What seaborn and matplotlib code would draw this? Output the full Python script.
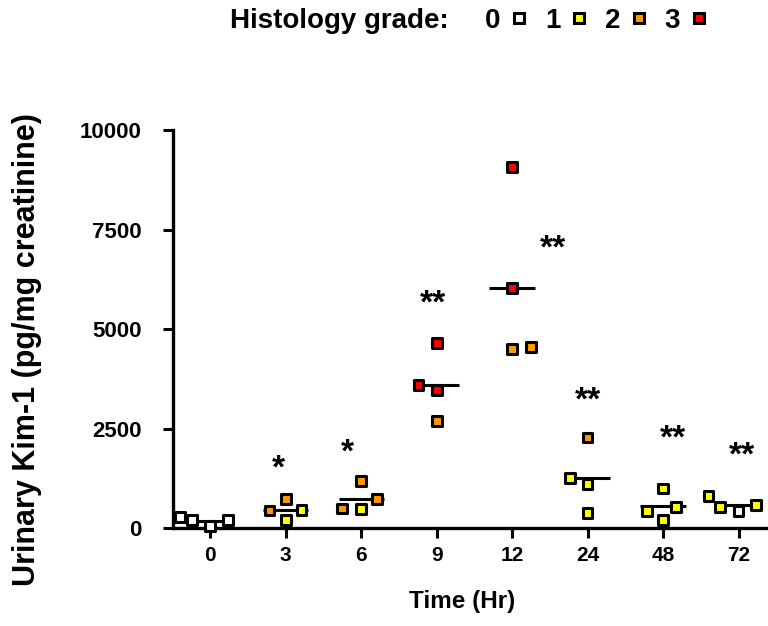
import numpy as np
import pandas as pd
import seaborn as sns
import matplotlib.pyplot as plt
from matplotlib.lines import Line2D

# time points (hours) and urinary Kim-1 values, 4 animals per time point
times = ['0', '3', '6', '9', '12', '24', '48', '72']
kim_0 = [200, 60, 290, 200]
kim_3 = [450, 730, 210, 460]
kim_6 = [730, 1190, 480, 500]
kim_9 = [4650, 3600, 3480, 2700]
kim_12 = [9080, 6040, 4500, 4560]
kim_24 = [2280, 1270, 1120, 390]
kim_48 = [1000, 540, 440, 210]
kim_72 = [590, 810, 430, 540]

# histology grade of each animal
grade_0 = ['0', '0', '0', '0']
grade_3 = ['2', '2', '1', '1']
grade_6 = ['2', '2', '1', '2']
grade_9 = ['3', '3', '3', '2']
grade_12 = ['3', '3', '2', '2']
grade_24 = ['2', '1', '1', '1']
grade_48 = ['1', '1', '1', '1']
grade_72 = ['1', '1', '0', '1']

signif = ['', '*', '*', '**', '**', '**', '**', '**']

grades = ['0', '1', '2', '3']
grade_colors = {'0': '#FFFFFF', '1': '#FFFF00', '2': '#FF9900', '3': '#FF0000'}

kims = [kim_0, kim_3, kim_6, kim_9, kim_12, kim_24, kim_48, kim_72]
grds = [grade_0, grade_3, grade_6, grade_9, grade_12, grade_24, grade_48, grade_72]
df = pd.DataFrame({
    'time': np.repeat(times, 4),
    'kim1': np.concatenate(kims),
    'grade': np.concatenate(grds),
})

sns.set_style('ticks')
plt.rcParams['font.family'] = ['Liberation Sans', 'DejaVu Sans']
plt.rcParams['font.weight'] = 'bold'
for k in ['text.color', 'axes.labelcolor', 'xtick.color', 'ytick.color', 'axes.edgecolor']:
    plt.rcParams[k] = 'black'

fig = plt.figure(figsize=(7.68, 6.26), dpi=100)
ax = fig.add_axes([172.5 / 768, (626 - 528.3) / 626, 595.5 / 768, 398.3 / 626])

# swarm laid out with a wide spacing (like Prism), then markers shrunk
sns.swarmplot(data=df, x='time', y='kim1', hue='grade', hue_order=grades,
              palette=grade_colors, order=times, marker='s', size=10.8,
              edgecolor='black', linewidth=2.2, legend=False, ax=ax, zorder=3)

# mean line
means = df.groupby('time')['kim1'].mean().reindex(times)
pos = np.arange(len(times))
ax.hlines(means.values, pos - 0.3, pos + 0.3, color='black', lw=2.2, zorder=2)

ax.set_xlim(-0.5, 7.39)
ax.set_ylim(0, 10000)
ax.set_yticks([0, 2500, 5000, 7500, 10000])
sns.despine(ax=ax)
for s in ['left', 'bottom']:
    ax.spines[s].set_linewidth(2.4)
ax.tick_params(axis='y', length=7, width=2.2, pad=15, labelsize=16)
ax.tick_params(axis='x', length=7, width=2.2, pad=6, labelsize=15)

ax.set_xlabel('Time (Hr)', fontsize=17.5, fontweight='bold')
ax.set_ylabel('Urinary Kim-1 (pg/mg creatinine)', fontsize=22, fontweight='bold')
ax.xaxis.set_label_coords(0.486, -0.155)
ax.yaxis.set_label_coords(-0.219, 0.448)

fig.canvas.draw()
for c in ax.collections:
    if 'draw' in c.__dict__:
        del c.draw
        c.set_sizes([7.0 ** 2])
    c.set_clip_on(False)

# significance stars
star_xy = [None, (0.91, 1630), (1.82, 2050), (2.95, 5780), (4.54, 7160),
           (5.0, 3350), (6.13, 2390), (7.04, 1965)]
for s, xy in zip(signif, star_xy):
    if s:
        ax.text(xy[0], xy[1] - 150, s, ha='center', va='center', fontsize=24,
                fontweight='bold')

# legend
handles = [Line2D([], [], marker='s', linestyle='none', markersize=6.8,
                  markerfacecolor=grade_colors[g], markeredgecolor='black',
                  markeredgewidth=2.2) for g in grades]
fig.legend(handles, grades, ncol=4, markerfirst=False, frameon=False,
           loc='center left', bbox_to_anchor=(485 / 768, 605 / 626),
           fontsize=20, handlelength=0.45, handletextpad=0.45,
           columnspacing=0.7, borderpad=0, borderaxespad=0)
fig.text(230 / 768, 605 / 626, 'Histology grade:', fontsize=20,
         fontweight='bold', ha='left', va='center')

fig.savefig('out.png', dpi=100)
